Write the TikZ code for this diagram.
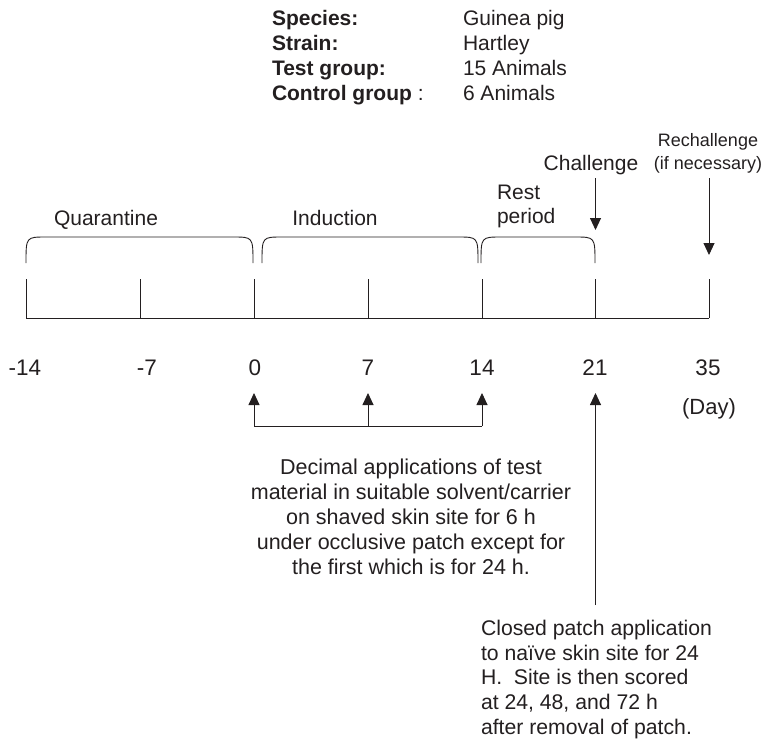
\documentclass[tikz,border=0pt]{standalone}
\usepackage{fontspec}
\setmainfont{Liberation Sans}
\usetikzlibrary{arrows.meta}
\definecolor{ink}{RGB}{35,31,32}
\begin{document}
\begin{tikzpicture}[x=1pt,y=-1pt,
  every node/.style={inner sep=0pt, outer sep=0pt, text=ink},
  line/.style={draw=ink, line width=0.9pt},
  arr/.style={line, -{Triangle[width=11pt,length=12pt]}},
  lbl/.style={font=\fontsize{21}{24}\selectfont},
  small/.style={font=\fontsize{18}{23}\selectfont},
  num/.style={font=\fontsize{22.5}{27}\selectfont, anchor=base},
  body/.style={font=\fontsize{21.5}{25}\selectfont},
  hdr/.style={font=\fontsize{21}{25}\selectfont\bfseries, anchor=base west},
  val/.style={font=\fontsize{21}{25}\selectfont, anchor=base west},
]
\useasboundingbox (0,0) rectangle (776,740);

% ---- study parameters ----
\node[hdr] (kSpecies) at (272,25.5)  {Species:};
\node[val] (vSpecies) at (463,25.5)  {Guinea pig};
\node[hdr] (kStrain)  at (272,50.5)  {Strain:};
\node[val] (vStrain)  at (463,50.5)  {Hartley};
\node[hdr] (kTest)    at (272,75.5)  {Test group:};
\node[val] (vTest)    at (463,75.5)  {15 Animals};
\node[val] (kControl) at (272,100.5) {\textbf{Control group} :};
\node[val] (vControl) at (463,100.5) {6 Animals};

% ---- time axis ----
\foreach \n/\x in {m14/26, m7/140, d0/254, d7/368, d14/482, d21/595.5, d35/709}{
  \coordinate (bot\n) at (\x,318);
  \coordinate (top\n) at (\x,279);
}
\draw[line] (botm14) -- (botd35);
\foreach \n in {m14, m7, d0, d7, d14, d21, d35}{
  \draw[line] (bot\n) -- (top\n);
}

% ---- phase brackets ----
\draw[line] (26,263) .. controls (26,237) .. (46,237) -- (233,237)
            .. controls (253,237) .. (253,263);
\draw[line] (262,263) .. controls (262,237) .. (282,237) -- (458,237)
            .. controls (478,237) .. (478,263);
\draw[line] (481,263) .. controls (481,237) .. (501,237) -- (575,237)
            .. controls (595,237) .. (595,263);

\node[lbl, anchor=base] (quar) at (106,225.5) {Quarantine};
\node[lbl, anchor=base] (induc) at (335,225.5) {Induction};
\node[lbl, anchor=north west, align=left] (rest) at (497,185) {Rest\\period};

% ---- challenge markers ----
\node[lbl, anchor=base] (chal) at (591,170.5) {Challenge};
\node[small, anchor=north, align=center] (rechal) at (708,133) {Rechallenge\\(if necessary)};
\coordinate (chalS) at (595.5,178);
\coordinate (chalE) at (595.5,230);
\coordinate (rechS) at (709,178);
\coordinate (rechE) at (709,255);
\draw[arr] (chalS) -- (chalE);
\draw[arr] (rechS) -- (rechE);

% ---- day numbers ----
\node[num] (nm14) at (25,375) {-14};
\node[num] (nm7)  at (147,375) {-7};
\node[num] (n0)   at (255,375) {0};
\node[num] (n7)   at (368,375) {7};
\node[num] (n14)  at (482,375) {14};
\node[num] (n21)  at (595,375) {21};
\node[num] (n35)  at (708,375) {35};
\node[num, font=\fontsize{22}{26}\selectfont] (day) at (709,414) {(Day)};

% ---- induction applications ----
\coordinate (app0) at (254,426);
\coordinate (app7) at (368,426);
\coordinate (app14) at (482,426);
\coordinate (tip0) at (254,393);
\coordinate (tip7) at (368,393);
\coordinate (tip14) at (482,393);
\draw[line] (app0) -- (app14);
\draw[arr] (app0) -- (tip0);
\draw[arr] (app7) -- (tip7);
\draw[arr] (app14) -- (tip14);

\node[body, anchor=north, align=center] (induText) at (411,459)
  {Decimal applications of test\\
   material in suitable solvent/carrier\\
   on shaved skin site for 6 h\\
   under occlusive patch except for\\
   the first which is for 24 h.};

% ---- challenge application ----
\coordinate (chapS) at (595.5,605);
\coordinate (chapE) at (595.5,393);
\draw[arr] (chapS) -- (chapE);

\node[body, font=\fontsize{21.2}{24.8}\selectfont, anchor=north west, align=left] (chalText) at (481,620)
  {Closed patch application\\
   to na\"ive skin site for 24\\
   H.\ \ Site is then scored\\
   at 24, 48, and 72 h\\
   after removal of patch.};
\end{tikzpicture}
\end{document}
